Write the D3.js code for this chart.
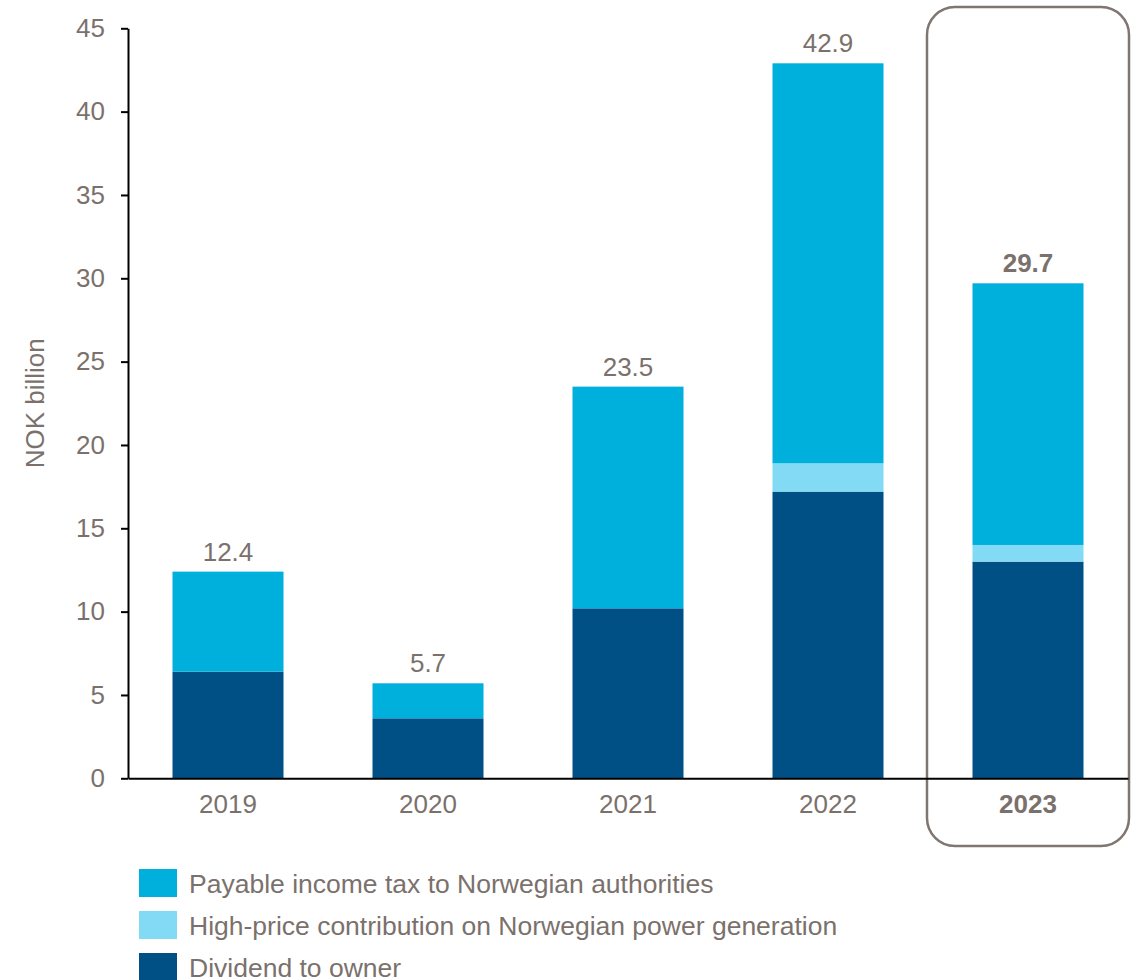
<!DOCTYPE html>
<html>
<head>
<meta charset="utf-8">
<script src="https://cdn.jsdelivr.net/npm/d3@7"></script>
<style>
  html, body { margin: 0; padding: 0; background: #ffffff; }
  svg { display: block; font-family: "Liberation Sans", Arial, sans-serif; }
</style>
</head>
<body>
<svg id="chart" width="1138" height="980"></svg>
<script>
// Payments to the owner and to Norwegian authorities, NOK billion
const years = ["2019", "2020", "2021", "2022", "2023"];
const dividend = [6.4, 3.6, 10.2, 17.2, 13.0];
const highPrice = [0, 0, 0, 1.7, 1.0];
const incomeTax = [6.0, 2.1, 13.3, 24.0, 15.7];
const totals = [12.4, 5.7, 23.5, 42.9, 29.7];
const yTicks = [0, 5, 10, 15, 20, 25, 30, 35, 40, 45];
const seriesKeys = ["dividend", "highPrice", "incomeTax"];
const legendLabels = [
  "Payable income tax to Norwegian authorities",
  "High-price contribution on Norwegian power generation",
  "Dividend to owner"
];
const legendKeys = ["incomeTax", "highPrice", "dividend"];
const highlightYear = "2023";

const colors = {
  incomeTax: "#00b0dc",
  highPrice: "#82daf4",
  dividend: "#005086"
};
const textColor = "#7b716c";
const fontSize = 26;
const legendFontSize = 26.5;

const svg = d3.select("#chart");
const plot = { left: 128, right: 1128, top: 28.3, bottom: 778.3 };

const x = d3.scaleBand()
  .domain(years)
  .range([plot.left, plot.right])
  .paddingInner(0.445)
  .paddingOuter(0.2225);

const y = d3.scaleLinear()
  .domain([0, 45])
  .range([plot.bottom, plot.top]);

// Highlight frame around the latest year
svg.append("rect")
  .attr("x", x(highlightYear) + x.bandwidth() / 2 - 101)
  .attr("y", 7)
  .attr("width", 202)
  .attr("height", 839)
  .attr("rx", 28)
  .attr("ry", 28)
  .attr("fill", "none")
  .attr("stroke", "#7f7571")
  .attr("stroke-width", 2.5);

// Stacked bars
const rows = years.map((yr, i) => ({
  year: yr,
  dividend: dividend[i],
  highPrice: highPrice[i],
  incomeTax: incomeTax[i]
}));
const stacked = d3.stack().keys(seriesKeys)(rows);

svg.append("g")
  .selectAll("g")
  .data(stacked)
  .join("g")
  .attr("fill", d => colors[d.key])
  .selectAll("rect")
  .data(d => d)
  .join("rect")
  .attr("x", d => x(d.data.year))
  .attr("width", x.bandwidth())
  .attr("y", d => y(d[1]))
  .attr("height", d => y(d[0]) - y(d[1]));

// Total labels above bars
svg.append("g")
  .selectAll("text")
  .data(years)
  .join("text")
  .attr("x", d => x(d) + x.bandwidth() / 2)
  .attr("y", (d, i) => y(totals[i]) - 11)
  .attr("text-anchor", "middle")
  .attr("font-size", fontSize)
  .attr("font-weight", d => d === highlightYear ? "bold" : "normal")
  .attr("fill", textColor)
  .text((d, i) => totals[i].toFixed(1));

// Y axis
const yAxis = svg.append("g")
  .attr("transform", `translate(${plot.left},0)`)
  .call(d3.axisLeft(y).tickValues(yTicks).tickSize(7).tickPadding(16).tickSizeOuter(0));
yAxis.select(".domain").attr("stroke", "#000").attr("stroke-width", 2);
yAxis.selectAll(".tick line").attr("stroke", "#000").attr("stroke-width", 2);
yAxis.selectAll(".tick text")
  .attr("fill", textColor)
  .attr("font-size", fontSize)
  .attr("font-family", "Liberation Sans, Arial, sans-serif");

// X axis
const xAxis = svg.append("g")
  .attr("transform", `translate(0,${plot.bottom})`)
  .call(d3.axisBottom(x).tickSize(0).tickSizeOuter(0));
xAxis.select(".domain").attr("stroke", "#000").attr("stroke-width", 2);
xAxis.selectAll(".tick text")
  .attr("y", 35)
  .attr("dy", 0)
  .attr("fill", textColor)
  .attr("font-size", fontSize)
  .attr("font-family", "Liberation Sans, Arial, sans-serif")
  .attr("font-weight", d => d === highlightYear ? "bold" : "normal");

// Y axis title
svg.append("text")
  .attr("transform", `translate(44,${(plot.top + plot.bottom) / 2}) rotate(-90)`)
  .attr("text-anchor", "middle")
  .attr("font-size", fontSize)
  .attr("fill", textColor)
  .text("NOK billion");

// Legend
const legend = svg.append("g")
  .selectAll("g")
  .data(legendKeys)
  .join("g")
  .attr("transform", (d, i) => `translate(139,${869 + i * 42})`);
legend.append("rect")
  .attr("width", 38)
  .attr("height", 28)
  .attr("fill", d => colors[d]);
legend.append("text")
  .attr("x", 50)
  .attr("y", 24)
  .attr("font-size", legendFontSize)
  .attr("fill", textColor)
  .text((d, i) => legendLabels[i]);
</script>
</body>
</html>
